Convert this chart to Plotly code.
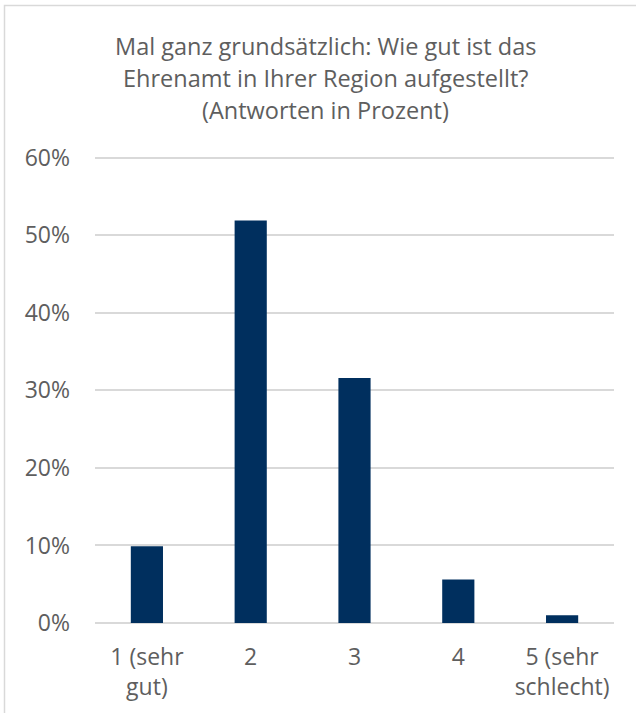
import plotly.graph_objects as go

categories = ["1 (sehr<br>gut)", "2", "3", "4", "5 (sehr<br>schlecht)"]
values = [9.9, 51.9, 31.6, 5.6, 1.0]
title_lines = [
    "Mal ganz grundsätzlich: Wie gut ist das",
    "Ehrenamt in Ihrer Region aufgestellt?",
    "(Antworten in Prozent)",
]
y_ticks = [0, 10, 20, 30, 40, 50, 60]
y_ticklabels = [f"{v}%" for v in y_ticks]
y_max = 61

W, H = 636, 713
L, R, B = 95, 22, 90
px_per_unit = (623 - 158) / 60
T = round(H - B - y_max * px_per_unit)
pw, ph = W - L - R, H - T - B

def px_x(x):
    return (x - L) / pw

def px_y(y):
    return (H - B - y) / ph

FONT = "Open Sans"
TXT = "#5e5e5e"

fig = go.Figure(go.Bar(
    x=categories, y=values,
    marker=dict(color="#002F5E", line=dict(width=0)),
    width=0.31,
))

annotations = []
for line, yc in zip(title_lines, [46, 78, 110]):
    annotations.append(dict(
        text=line, xref="paper", yref="paper", x=px_x(325), y=px_y(yc),
        xanchor="center", yanchor="middle", showarrow=False,
        font=dict(family=FONT, size=23.5, color=TXT),
    ))

fig.update_layout(
    width=W, height=H,
    margin=dict(l=L, r=R, t=T, b=B, pad=0),
    paper_bgcolor="white", plot_bgcolor="white",
    showlegend=False,
    annotations=annotations,
    shapes=[dict(
        type="rect", xref="paper", yref="paper",
        x0=px_x(4.5), x1=px_x(700), y0=px_y(800), y1=px_y(5.5),
        line=dict(color="#d9d9d9", width=1.5), fillcolor="rgba(0,0,0,0)",
        layer="below",
    )],
    xaxis=dict(
        showgrid=False, zeroline=False, showline=False, ticks="",
        tickfont=dict(family=FONT, size=23, color=TXT),
        ticklabelstandoff=18,
    ),
    yaxis=dict(
        range=[0, y_max], tickvals=y_ticks, ticktext=y_ticklabels,
        showgrid=True, gridcolor="#d9d9d9", gridwidth=1.5,
        zeroline=True, zerolinecolor="#d9d9d9", zerolinewidth=1.5,
        showline=False, ticks="",
        tickfont=dict(family=FONT, size=23, color=TXT),
        ticklabelstandoff=24,
    ),
)

fig.write_html("out.html")
